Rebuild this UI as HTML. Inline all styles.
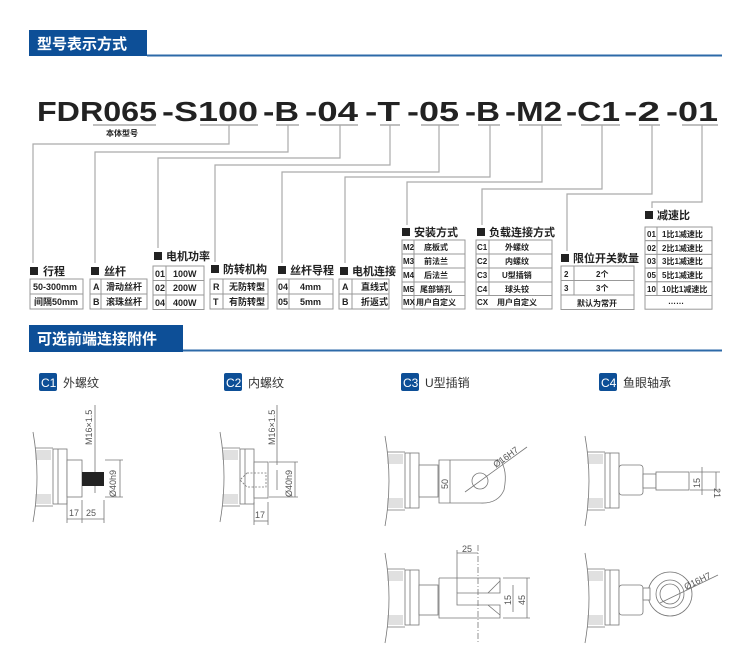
<!DOCTYPE html>
<html><head><meta charset="utf-8"><style>
html,body{margin:0;padding:0;background:#fff;}
svg{display:block;}
.t{font-family:"Liberation Sans","Noto Sans CJK SC",sans-serif;font-weight:bold;fill:#222;}
.c{font-size:9px;}
.l{font-size:11px;}
.tb rect{fill:#fff;stroke:#999;stroke-width:1;}
.tb line{stroke:#999;stroke-width:1;}
.ln{stroke:#aaa;stroke-width:1.2;fill:none;}
.d{stroke:#777;stroke-width:0.8;fill:none;}
.dt{font-family:"Liberation Sans",sans-serif;font-size:9px;fill:#555;}
</style></head><body>
<svg width="750" height="645" viewBox="0 0 750 645" xmlns="http://www.w3.org/2000/svg">
<rect x="29" y="30" width="118" height="26" fill="#0d4f97"/>
<rect x="147" y="54.5" width="575" height="2" fill="#2d6aa8"/>
<text x="37" y="49" class="t" style="font-size:15px;fill:#fff">型号表示方式</text>

<g class="t" style="font-size:28px;fill:#222;font-family:'Liberation Sans Narrow','Liberation Sans',sans-serif">
<text x="37" y="121" textLength="120" lengthAdjust="spacingAndGlyphs">FDR065</text>
<text x="162" y="121" textLength="96" lengthAdjust="spacingAndGlyphs">-S100</text>
<text x="263" y="121" textLength="36" lengthAdjust="spacingAndGlyphs">-B</text>
<text x="305" y="121" textLength="53" lengthAdjust="spacingAndGlyphs">-04</text>
<text x="365" y="121" textLength="35" lengthAdjust="spacingAndGlyphs">-T</text>
<text x="407" y="121" textLength="52" lengthAdjust="spacingAndGlyphs">-05</text>
<text x="465" y="121" textLength="35" lengthAdjust="spacingAndGlyphs">-B</text>
<text x="505" y="121" textLength="57" lengthAdjust="spacingAndGlyphs">-M2</text>
<text x="566" y="121" textLength="54" lengthAdjust="spacingAndGlyphs">-C1</text>
<text x="624" y="121" textLength="36" lengthAdjust="spacingAndGlyphs">-2</text>
<text x="666" y="121" textLength="52" lengthAdjust="spacingAndGlyphs">-01</text>
</g>
<g stroke="#aaa" stroke-width="1.5">
<line x1="93" y1="125" x2="156" y2="125"/><line x1="200" y1="125" x2="258" y2="125"/>
<line x1="276" y1="125" x2="299" y2="125"/><line x1="320" y1="125" x2="358" y2="125"/>
<line x1="380" y1="125" x2="400" y2="125"/><line x1="421" y1="125" x2="459" y2="125"/>
<line x1="478" y1="125" x2="500" y2="125"/><line x1="519" y1="125" x2="562" y2="125"/>
<line x1="581" y1="125" x2="620" y2="125"/><line x1="639" y1="125" x2="660" y2="125"/>
<line x1="682" y1="125" x2="718" y2="125"/>
</g>
<text x="106" y="136" class="t" style="font-size:8px">本体型号</text>

<g class="ln">
<polyline points="229,125 229,144 33,144 33,263"/>
<polyline points="288,125 288,152 95,152 95,263"/>
<polyline points="340,125 340,158 158,158 158,248"/>
<polyline points="390,125 390,165 215,165 215,262"/>
<polyline points="439,125 439,172 282,172 282,263"/>
<polyline points="490,125 490,177 345,177 345,263"/>
<polyline points="542,125 542,182 407,182 407,225"/>
<polyline points="602,125 602,189 482,189 482,225"/>
<polyline points="652,125 652,194 567,194 567,251"/>
<polyline points="702,125 702,202 652,202 652,208"/>
</g>

<g class="t l">
<rect x="30" y="267" width="8" height="8" fill="#222"/><text x="43" y="275">行程</text>
<rect x="91" y="267" width="8" height="8" fill="#222"/><text x="104" y="275">丝杆</text>
<rect x="154" y="252" width="8" height="8" fill="#222"/><text x="166" y="260">电机功率</text>
<rect x="211" y="265" width="8" height="8" fill="#222"/><text x="223" y="273">防转机构</text>
<rect x="278" y="266" width="8" height="8" fill="#222"/><text x="290" y="274">丝杆导程</text>
<rect x="340" y="267" width="8" height="8" fill="#222"/><text x="352" y="275">电机连接</text>
<rect x="402" y="228" width="8" height="8" fill="#222"/><text x="414" y="236">安装方式</text>
<rect x="477" y="228" width="8" height="8" fill="#222"/><text x="489" y="236">负载连接方式</text>
<rect x="561" y="254" width="8" height="8" fill="#222"/><text x="573" y="262">限位开关数量</text>
<rect x="645" y="211" width="8" height="8" fill="#222"/><text x="657" y="219">减速比</text>
</g>

<g class="tb">
<rect x="30" y="279" width="53" height="15"/><rect x="30" y="294" width="53" height="15"/>
<rect x="90" y="279" width="57" height="15"/><rect x="90" y="294" width="57" height="15"/><line x1="101" y1="279" x2="101" y2="309"/>
<rect x="153" y="266" width="51" height="14.5"/><rect x="153" y="280.5" width="51" height="14.5"/><rect x="153" y="295" width="51" height="14.5"/><line x1="166" y1="266" x2="166" y2="309.5"/>
<rect x="210" y="279" width="58" height="15"/><rect x="210" y="294" width="58" height="15"/><line x1="223" y1="279" x2="223" y2="309"/>
<rect x="277" y="279" width="56" height="15"/><rect x="277" y="294" width="56" height="15"/><line x1="289" y1="279" x2="289" y2="309"/>
<rect x="339" y="279" width="50" height="15"/><rect x="339" y="294" width="50" height="15"/><line x1="352" y1="279" x2="352" y2="309"/>
<rect x="402" y="240" width="63" height="14"/><rect x="402" y="254" width="63" height="14"/><rect x="402" y="268" width="63" height="14"/><rect x="402" y="282" width="63" height="13.5"/><rect x="402" y="295.5" width="63" height="13.5"/><line x1="414" y1="240" x2="414" y2="309"/>
<rect x="476" y="240" width="76" height="14"/><rect x="476" y="254" width="76" height="14"/><rect x="476" y="268" width="76" height="14"/><rect x="476" y="282" width="76" height="13.5"/><rect x="476" y="295.5" width="76" height="13.5"/><line x1="489" y1="240" x2="489" y2="295.5"/>
<rect x="561" y="266" width="73" height="14.5"/><rect x="561" y="280.5" width="73" height="14.5"/><rect x="561" y="295" width="73" height="14.5"/><line x1="574" y1="266" x2="574" y2="295"/>
<rect x="645" y="227" width="67" height="13.7"/><rect x="645" y="240.7" width="67" height="13.7"/><rect x="645" y="254.4" width="67" height="13.7"/><rect x="645" y="268.1" width="67" height="13.7"/><rect x="645" y="281.8" width="67" height="13.7"/><rect x="645" y="295.5" width="67" height="13.7"/><line x1="657" y1="227" x2="657" y2="295.5"/>
</g>
<g class="t c">
<text x="33" y="290">50-300mm</text><text x="34" y="305">间隔50mm</text>
<text x="93" y="290">A</text><text x="106" y="290">滑动丝杆</text><text x="93" y="305">B</text><text x="106" y="305">滚珠丝杆</text>
<text x="155" y="277">01</text><text x="173" y="277">100W</text><text x="155" y="291">02</text><text x="173" y="291">200W</text><text x="155" y="306">04</text><text x="173" y="306">400W</text>
<text x="213" y="290">R</text><text x="229" y="290">无防转型</text><text x="213" y="305">T</text><text x="229" y="305">有防转型</text>
<text x="278" y="290">04</text><text x="300" y="290">4mm</text><text x="278" y="305">05</text><text x="300" y="305">5mm</text>
<text x="342" y="290">A</text><text x="361" y="290">直线式</text><text x="342" y="305">B</text><text x="361" y="305">折返式</text>
</g>
<g class="t" style="font-size:8px">
<text x="403" y="250">M2</text><text x="424" y="250">底板式</text>
<text x="403" y="264">M3</text><text x="424" y="264">前法兰</text>
<text x="403" y="278">M4</text><text x="424" y="278">后法兰</text>
<text x="403" y="292">M5</text><text x="420" y="292">尾部销孔</text>
<text x="403" y="305">MX</text><text x="416" y="305">用户自定义</text>
<text x="477" y="250">C1</text><text x="505" y="250">外螺纹</text>
<text x="477" y="264">C2</text><text x="505" y="264">内螺纹</text>
<text x="477" y="278">C3</text><text x="502" y="278">U型插销</text>
<text x="477" y="292">C4</text><text x="505" y="292">球头铰</text>
<text x="477" y="305">CX</text><text x="497" y="305">用户自定义</text>
<text x="564" y="277">2</text><text x="596" y="277">2个</text>
<text x="564" y="291">3</text><text x="596" y="291">3个</text>
<text x="577" y="306">默认为常开</text>
<text x="647" y="237">01</text><text x="662" y="237">1比1减速比</text>
<text x="647" y="251">02</text><text x="662" y="251">2比1减速比</text>
<text x="647" y="264">03</text><text x="662" y="264">3比1减速比</text>
<text x="647" y="278">05</text><text x="662" y="278">5比1减速比</text>
<text x="647" y="292">10</text><text x="662" y="292">10比1减速比</text>
<text x="668" y="304">……</text>
</g>

<rect x="29" y="325" width="154" height="27" fill="#0d4f97"/>
<rect x="183" y="349.5" width="539" height="2" fill="#2d6aa8"/>
<text x="37" y="344" class="t" style="font-size:15px;fill:#fff">可选前端连接附件</text>

<g font-family="Liberation Sans,Noto Sans CJK SC,sans-serif" font-size="12">
<rect x="39" y="373" width="18" height="18" rx="2" fill="#0d4f97"/><text x="41" y="387" fill="#fff">C1</text><text x="63" y="387" fill="#333">外螺纹</text>
<rect x="224" y="373" width="18" height="18" rx="2" fill="#0d4f97"/><text x="226" y="387" fill="#fff">C2</text><text x="248" y="387" fill="#333">内螺纹</text>
<rect x="401" y="373" width="18" height="18" rx="2" fill="#0d4f97"/><text x="403" y="387" fill="#fff">C3</text><text x="425" y="387" fill="#333">U型插销</text>
<rect x="599" y="373" width="18" height="18" rx="2" fill="#0d4f97"/><text x="601" y="387" fill="#fff">C4</text><text x="623" y="387" fill="#333">鱼眼轴承</text>
</g>

<defs>
<g id="body">
<path class="d" d="M-20,-45 Q-12,0 -20,45"/>
<g stroke="#999" stroke-width="0.6">
<line x1="-18" y1="-26" x2="-2" y2="-26"/><line x1="-18" y1="-24" x2="-2" y2="-24"/><line x1="-18" y1="-22" x2="-2" y2="-22"/><line x1="-18" y1="-20" x2="-2" y2="-20"/><line x1="-18" y1="-18" x2="-2" y2="-18"/>
<line x1="-18" y1="18" x2="-2" y2="18"/><line x1="-18" y1="20" x2="-2" y2="20"/><line x1="-18" y1="22" x2="-2" y2="22"/><line x1="-18" y1="24" x2="-2" y2="24"/><line x1="-18" y1="26" x2="-2" y2="26"/>
</g>
<line class="d" x1="-18" y1="-29" x2="0" y2="-29"/><line class="d" x1="-18" y1="29" x2="0" y2="29"/>
<rect x="0" y="-28" width="14" height="55" fill="#fff" stroke="#777" stroke-width="0.8"/>
<line class="d" x1="5" y1="-28" x2="5" y2="27"/>
</g>
</defs>

<use href="#body" x="53" y="477"/>
<rect x="67" y="460" width="15" height="37" fill="#fff" stroke="#777" stroke-width="0.8"/>
<rect x="82" y="472" width="22" height="14" fill="#222"/>
<line class="d" x1="95" y1="405" x2="95" y2="472"/><line class="d" x1="95" y1="486" x2="95" y2="493"/>
<text class="dt" transform="translate(92,445) rotate(-90)">M16×1.5</text>
<line class="d" x1="105" y1="460" x2="123" y2="460"/><line class="d" x1="105" y1="497" x2="123" y2="497"/><line class="d" x1="120" y1="460" x2="120" y2="497"/>
<text class="dt" transform="translate(116,497) rotate(-90)">Ø40h9</text>
<line class="d" x1="67" y1="500" x2="67" y2="523"/><line class="d" x1="82" y1="500" x2="82" y2="523"/><line class="d" x1="104" y1="500" x2="104" y2="523"/>
<line class="d" x1="67" y1="519" x2="104" y2="519"/>
<text class="dt" x="69" y="516">17</text><text class="dt" x="86" y="516">25</text>

<use href="#body" x="240" y="477"/>
<rect x="254" y="462" width="14" height="36" fill="#fff" stroke="#777" stroke-width="0.8"/>
<path d="M247,473 L266,473 L266,487 L247,487 L240,480 Z" fill="none" stroke="#777" stroke-width="0.8" stroke-dasharray="2,1.5"/>
<line class="d" x1="277" y1="405" x2="277" y2="465"/><line class="d" x1="277" y1="470" x2="277" y2="490"/>
<text class="dt" transform="translate(275,445) rotate(-90)">M16×1.5</text>
<line class="d" x1="269" y1="462" x2="298" y2="462"/><line class="d" x1="269" y1="497" x2="298" y2="497"/><line class="d" x1="295" y1="462" x2="295" y2="497"/>
<text class="dt" transform="translate(292,497) rotate(-90)">Ø40h9</text>
<line class="d" x1="254" y1="502" x2="254" y2="525"/><line class="d" x1="268" y1="502" x2="268" y2="525"/><line class="d" x1="254" y1="521" x2="268" y2="521"/>
<text class="dt" x="255" y="518">17</text>

<use href="#body" x="405" y="481"/>
<rect x="419" y="465" width="19" height="32" fill="#fff" stroke="#777" stroke-width="0.8"/>
<path d="M439,460 L455,460 L500,460 Q508,470 504,490 Q498,504 480,503 L439,503 Z" fill="#fff" stroke="#777" stroke-width="0.8"/>
<circle cx="480" cy="481" r="8" fill="none" stroke="#777" stroke-width="0.8"/>
<line class="d" x1="465" y1="492" x2="527" y2="447"/>
<text class="dt" transform="translate(496,468) rotate(-36)">Ø16H7</text>
<line class="d" x1="450" y1="460" x2="450" y2="503"/>
<text class="dt" transform="translate(448,489) rotate(-90)">50</text>
<use href="#body" x="405" y="598"/>
<rect x="419" y="585" width="19" height="30" fill="#fff" stroke="#777" stroke-width="0.8"/>
<path d="M439,578 L500,578 L500,593 L488,593 L500,581 M439,578 L439,618 L500,618 L500,605 L488,605 L500,615 M500,593 L457,593 L457,605 L500,605" fill="#fff" stroke="#777" stroke-width="0.8"/>
<line x1="478" y1="545" x2="478" y2="642" stroke="#777" stroke-width="0.8" stroke-dasharray="6,2,1,2"/>
<line class="d" x1="457" y1="550" x2="457" y2="593"/><line class="d" x1="457" y1="553" x2="478" y2="553"/>
<text class="dt" x="462" y="552">25</text>
<line class="d" x1="503" y1="578" x2="530" y2="578"/><line class="d" x1="503" y1="618" x2="530" y2="618"/><line class="d" x1="527" y1="578" x2="527" y2="618"/>
<line class="d" x1="513" y1="585" x2="513" y2="612"/>
<text class="dt" transform="translate(511,605) rotate(-90)">15</text>
<text class="dt" transform="translate(525,605) rotate(-90)">45</text>

<use href="#body" x="605" y="481"/>
<rect x="619" y="465" width="24" height="30" rx="3" fill="#fff" stroke="#777" stroke-width="0.8"/>
<rect x="643" y="474" width="13" height="14" fill="#fff" stroke="#777" stroke-width="0.8"/>
<rect x="656" y="472" width="33" height="18" fill="#fff" stroke="#777" stroke-width="0.8"/>
<line class="d" x1="690" y1="472" x2="720" y2="472"/><line class="d" x1="690" y1="490" x2="720" y2="490"/>
<line class="d" x1="702" y1="467" x2="702" y2="495"/><line class="d" x1="716" y1="472" x2="716" y2="490"/>
<text class="dt" transform="translate(700,488) rotate(-90)">15</text>
<text class="dt" transform="translate(714,488) rotate(90)">21</text>
<use href="#body" x="605" y="598"/>
<rect x="619" y="585" width="24" height="30" rx="3" fill="#fff" stroke="#777" stroke-width="0.8"/>
<circle cx="670" cy="594" r="22" fill="#fff" stroke="#777" stroke-width="0.8"/>
<rect x="643" y="588" width="7" height="12" fill="#fff" stroke="#777" stroke-width="0.8"/>
<circle cx="670" cy="594" r="14" fill="none" stroke="#777" stroke-width="0.8"/>
<circle cx="670" cy="594" r="10" fill="none" stroke="#777" stroke-width="0.8"/>
<line class="d" x1="660" y1="603" x2="718" y2="575"/>
<text class="dt" transform="translate(686,590) rotate(-26)">Ø16H7</text>
</svg>
</body></html>
